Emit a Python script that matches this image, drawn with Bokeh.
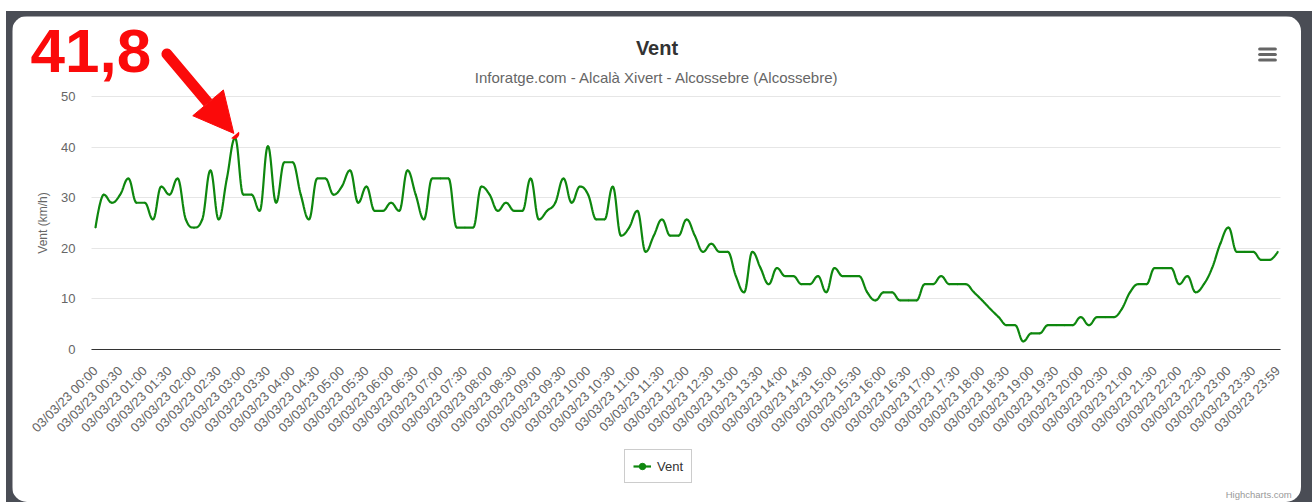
import math
import numpy as np
from bokeh.plotting import figure
from bokeh.models import (Range1d, FixedTicker, Label, Legend, LegendItem, Arrow, NormalHead)
from bokeh.layouts import column
from bokeh.embed import file_html
from bokeh.resources import INLINE

# ---------------- data (10-minute readings, km/h) ----------------
wind_kmh = [
    24.1, 30.6, 29.0, 30.6, 33.8, 29.0, 29.0, 25.7, 32.2, 30.6,
    33.8, 25.7, 24.1, 25.7, 35.4, 25.7, 33.8, 41.8, 30.6, 30.6,
    27.4, 40.2, 29.0, 37.0, 37.0, 30.6, 25.7, 33.8, 33.8, 30.6,
    32.2, 35.4, 29.0, 32.2, 27.4, 27.4, 29.0, 27.4, 35.4, 30.6,
    25.7, 33.8, 33.8, 33.8, 24.1, 24.1, 24.1, 32.2, 30.6, 27.4,
    29.0, 27.4, 27.4, 33.8, 25.7, 27.4, 29.0, 33.8, 29.0, 32.2,
    30.6, 25.7, 25.7, 32.2, 22.5, 24.1, 27.4, 19.3, 22.5, 25.7,
    22.5, 22.5, 25.7, 22.5, 19.3, 20.9, 19.3, 19.3, 14.5, 11.3,
    19.3, 16.1, 12.9, 16.1, 14.5, 14.5, 12.9, 12.9, 14.5, 11.3,
    16.1, 14.5, 14.5, 14.5, 11.3, 9.7, 11.3, 11.3, 9.7, 9.7,
    9.7, 12.9, 12.9, 14.5, 12.9, 12.9, 12.9, 11.3, 9.7, 8.0,
    6.4, 4.8, 4.8, 1.6, 3.2, 3.2, 4.8, 4.8, 4.8, 4.8,
    6.4, 4.8, 6.4, 6.4, 6.4, 8.0, 11.3, 12.9, 12.9, 16.1,
    16.1, 16.1, 12.9, 14.5, 11.3, 12.9, 16.1, 20.9, 24.1, 19.3,
    19.3, 19.3, 17.7, 17.7, 19.3,
]

tick_labels = [
    "03/03/23 00:00", "03/03/23 00:30", "03/03/23 01:00", "03/03/23 01:30",
    "03/03/23 02:00", "03/03/23 02:30", "03/03/23 03:00", "03/03/23 03:30",
    "03/03/23 04:00", "03/03/23 04:30", "03/03/23 05:00", "03/03/23 05:30",
    "03/03/23 06:00", "03/03/23 06:30", "03/03/23 07:00", "03/03/23 07:30",
    "03/03/23 08:00", "03/03/23 08:30", "03/03/23 09:00", "03/03/23 09:30",
    "03/03/23 10:00", "03/03/23 10:30", "03/03/23 11:00", "03/03/23 11:30",
    "03/03/23 12:00", "03/03/23 12:30", "03/03/23 13:00", "03/03/23 13:30",
    "03/03/23 14:00", "03/03/23 14:30", "03/03/23 15:00", "03/03/23 15:30",
    "03/03/23 16:00", "03/03/23 16:30", "03/03/23 17:00", "03/03/23 17:30",
    "03/03/23 18:00", "03/03/23 18:30", "03/03/23 19:00", "03/03/23 19:30",
    "03/03/23 20:00", "03/03/23 20:30", "03/03/23 21:00", "03/03/23 21:30",
    "03/03/23 22:00", "03/03/23 22:30", "03/03/23 23:00", "03/03/23 23:30",
    "03/03/23 23:59",
]
tick_step = 3
y_ticks = [0, 10, 20, 30, 40, 50]
y_min, y_max = 0, 50

title_text = "Vent"
subtitle_text = "Inforatge.com - Alcalà Xivert - Alcossebre (Alcossebre)"
y_title = "Vent (km/h)"
series_name = "Vent"
callout_text = "41,8"
credit_text = "Highcharts.com"

FONT = "Liberation Sans"
GREEN = "#0e870e"
RED = "#fb0a0a"


# ---------------- Highcharts-like spline ----------------
def spline_path(xs, ys, smoothing=1.5, n=14):
    denom = smoothing + 1
    npts = len(xs)
    lc = [None] * npts
    rc = [None] * npts
    for i in range(1, npts - 1):
        px, py = xs[i], ys[i]
        lx, ly = xs[i - 1], ys[i - 1]
        nx, ny = xs[i + 1], ys[i + 1]
        lcx = (smoothing * px + lx) / denom
        lcy = (smoothing * py + ly) / denom
        rcx = (smoothing * px + nx) / denom
        rcy = (smoothing * py + ny) / denom
        corr = ((rcy - lcy) * (rcx - px)) / (rcx - lcx) + py - rcy
        lcy += corr
        rcy += corr
        if lcy > ly and lcy > py:
            lcy = max(ly, py)
            rcy = 2 * py - lcy
        elif lcy < ly and lcy < py:
            lcy = min(ly, py)
            rcy = 2 * py - lcy
        if rcy > ny and rcy > py:
            rcy = max(ny, py)
            lcy = 2 * py - rcy
        elif rcy < ny and rcy < py:
            rcy = min(ny, py)
            lcy = 2 * py - rcy
        lc[i] = (lcx, lcy)
        rc[i] = (rcx, rcy)
    t = np.linspace(0, 1, n + 1)[1:]
    ox, oy = [xs[0]], [ys[0]]
    for i in range(1, npts):
        p0 = (xs[i - 1], ys[i - 1])
        p3 = (xs[i], ys[i])
        p1 = rc[i - 1] if rc[i - 1] is not None else p0
        p2 = lc[i] if lc[i] is not None else p3
        a = (1 - t) ** 3
        b = 3 * (1 - t) ** 2 * t
        c = 3 * (1 - t) * t ** 2
        d = t ** 3
        ox.extend(a * p0[0] + b * p1[0] + c * p2[0] + d * p3[0])
        oy.extend(a * p0[1] + b * p1[1] + c * p2[1] + d * p3[1])
    return ox, oy


xs = list(range(len(wind_kmh)))
sx, sy = spline_path(xs, wind_kmh)

# plot-area extent along x (category axis padding)
x_lo, x_hi = -0.49, 144.33

# ---------------- figure: frame covers the whole white card ----------------
p = figure(width=1289, height=486, output_backend="svg", toolbar_location=None,
           x_range=Range1d(-10.11, 146.89), y_range=Range1d(-30.24, 65.81),
           min_border=0, min_border_left=0, min_border_right=0,
           min_border_top=0, min_border_bottom=0,
           styles={"border-radius": "15px", "overflow": "hidden"})
p.margin = (5, 11, 0, 6)
p.title.visible = False
p.outline_line_color = None
p.background_fill_color = "white"
p.border_fill_color = "white"
p.xgrid.visible = False
p.ygrid.grid_line_color = "#e6e6e6"
p.ygrid.grid_line_width = 1
p.ygrid.cross_bounds = (x_lo, x_hi)

p.yaxis.fixed_location = x_lo
p.yaxis.ticker = FixedTicker(ticks=y_ticks)
p.yaxis.bounds = (y_min, y_max)
p.yaxis.axis_line_color = None
p.yaxis.major_tick_line_color = None
p.yaxis.minor_tick_line_color = None
p.yaxis.major_tick_out = 0
p.yaxis.major_tick_in = 0
p.yaxis.major_label_text_font = FONT
p.yaxis.major_label_text_font_size = "13px"
p.yaxis.major_label_text_color = "#666666"
p.yaxis.major_label_standoff = 16
p.yaxis.axis_label = y_title
p.yaxis.axis_label_text_font = FONT
p.yaxis.axis_label_text_font_size = "12px"
p.yaxis.axis_label_text_font_style = "normal"
p.yaxis.axis_label_text_color = "#666666"
p.yaxis.axis_label_standoff = 8

p.xaxis.fixed_location = y_min
p.xaxis.ticker = FixedTicker(ticks=list(range(0, len(wind_kmh), tick_step)))
p.xaxis.bounds = (x_lo, x_hi)
p.xaxis.major_label_overrides = {i * tick_step: lab for i, lab in enumerate(tick_labels)}
p.xaxis.major_label_orientation = math.pi / 4
p.xaxis.major_label_text_font = FONT
p.xaxis.major_label_text_font_size = "13px"
p.xaxis.major_label_text_color = "#666666"
p.xaxis.major_label_standoff = 19
p.xaxis.major_tick_out = 0
p.xaxis.major_tick_in = 0
p.xaxis.axis_line_color = "#333333"
p.xaxis.axis_line_width = 1
p.xaxis.major_tick_line_color = None
p.xaxis.minor_tick_line_color = None

line_r = p.line(sx, sy, line_color=GREEN, line_width=2.2)
mark_r = p.scatter(xs, wind_kmh, size=1, fill_color=GREEN, line_color=GREEN)

legend = Legend(items=[LegendItem(label=series_name, renderers=[line_r, mark_r])],
                location=(612, 19), orientation="horizontal", margin=0,
                padding=8, glyph_width=18, glyph_height=16, label_standoff=6,
                label_text_font=FONT, label_text_font_size="13px",
                label_text_color="#333333", border_line_color="#999999",
                border_line_width=1, background_fill_color="white",
                background_fill_alpha=1)
p.add_layout(legend)

# ---- texts (data units; x px = 95 + 8.21*i, y px = 349 - 5.06*v), anchored at cap middle ----
p.add_layout(Label(x=68.39, y=59.68, text=title_text, text_align="center",
                   text_baseline="middle", text_font=FONT,
                   text_font_size="20px", text_font_style="bold", text_color="#333333"))
p.add_layout(Label(x=68.39, y=53.75, text=subtitle_text, text_align="center",
                   text_baseline="middle", text_font=FONT,
                   text_font_size="15px", text_color="#666666"))
p.add_layout(Label(x=145.7, y=-28.66, text=credit_text, text_align="right",
                   text_baseline="middle", text_font=FONT,
                   text_font_size="9.5px", text_color="#999999"))

# context-menu icon: three thick rounded bars
for bar_y in (59.39, 58.30, 57.21):
    p.add_layout(Arrow(x_start=141.8, y_start=bar_y, x_end=143.7, y_end=bar_y,
                       end=None, line_color="#666666", line_width=3.2,
                       line_cap="round"))

# callout
peak_i = int(np.argmax(wind_kmh))
peak_v = wind_kmh[peak_i]
p.add_layout(Label(x=-7.92, y=59.09, text=callout_text, text_align="left",
                   text_baseline="middle", text_font=FONT,
                   text_font_size="62px", text_font_style="bold", text_color=RED))
p.add_layout(Arrow(x_start=8.7, y_start=58.4, x_end=peak_i - 0.15, y_end=peak_v + 0.9,
                   line_color=RED, line_width=11, line_cap="round",
                   end=NormalHead(size=40, fill_color=RED, line_color=RED, line_width=1)))

inner = column(p, width=1306, height=491, margin=(11, 0, 0, 6),
               styles={"background-color": "#4a4d55"})
layout = column(inner, width=1312, height=502)

open("out.html", "w").write(file_html(layout, INLINE))
